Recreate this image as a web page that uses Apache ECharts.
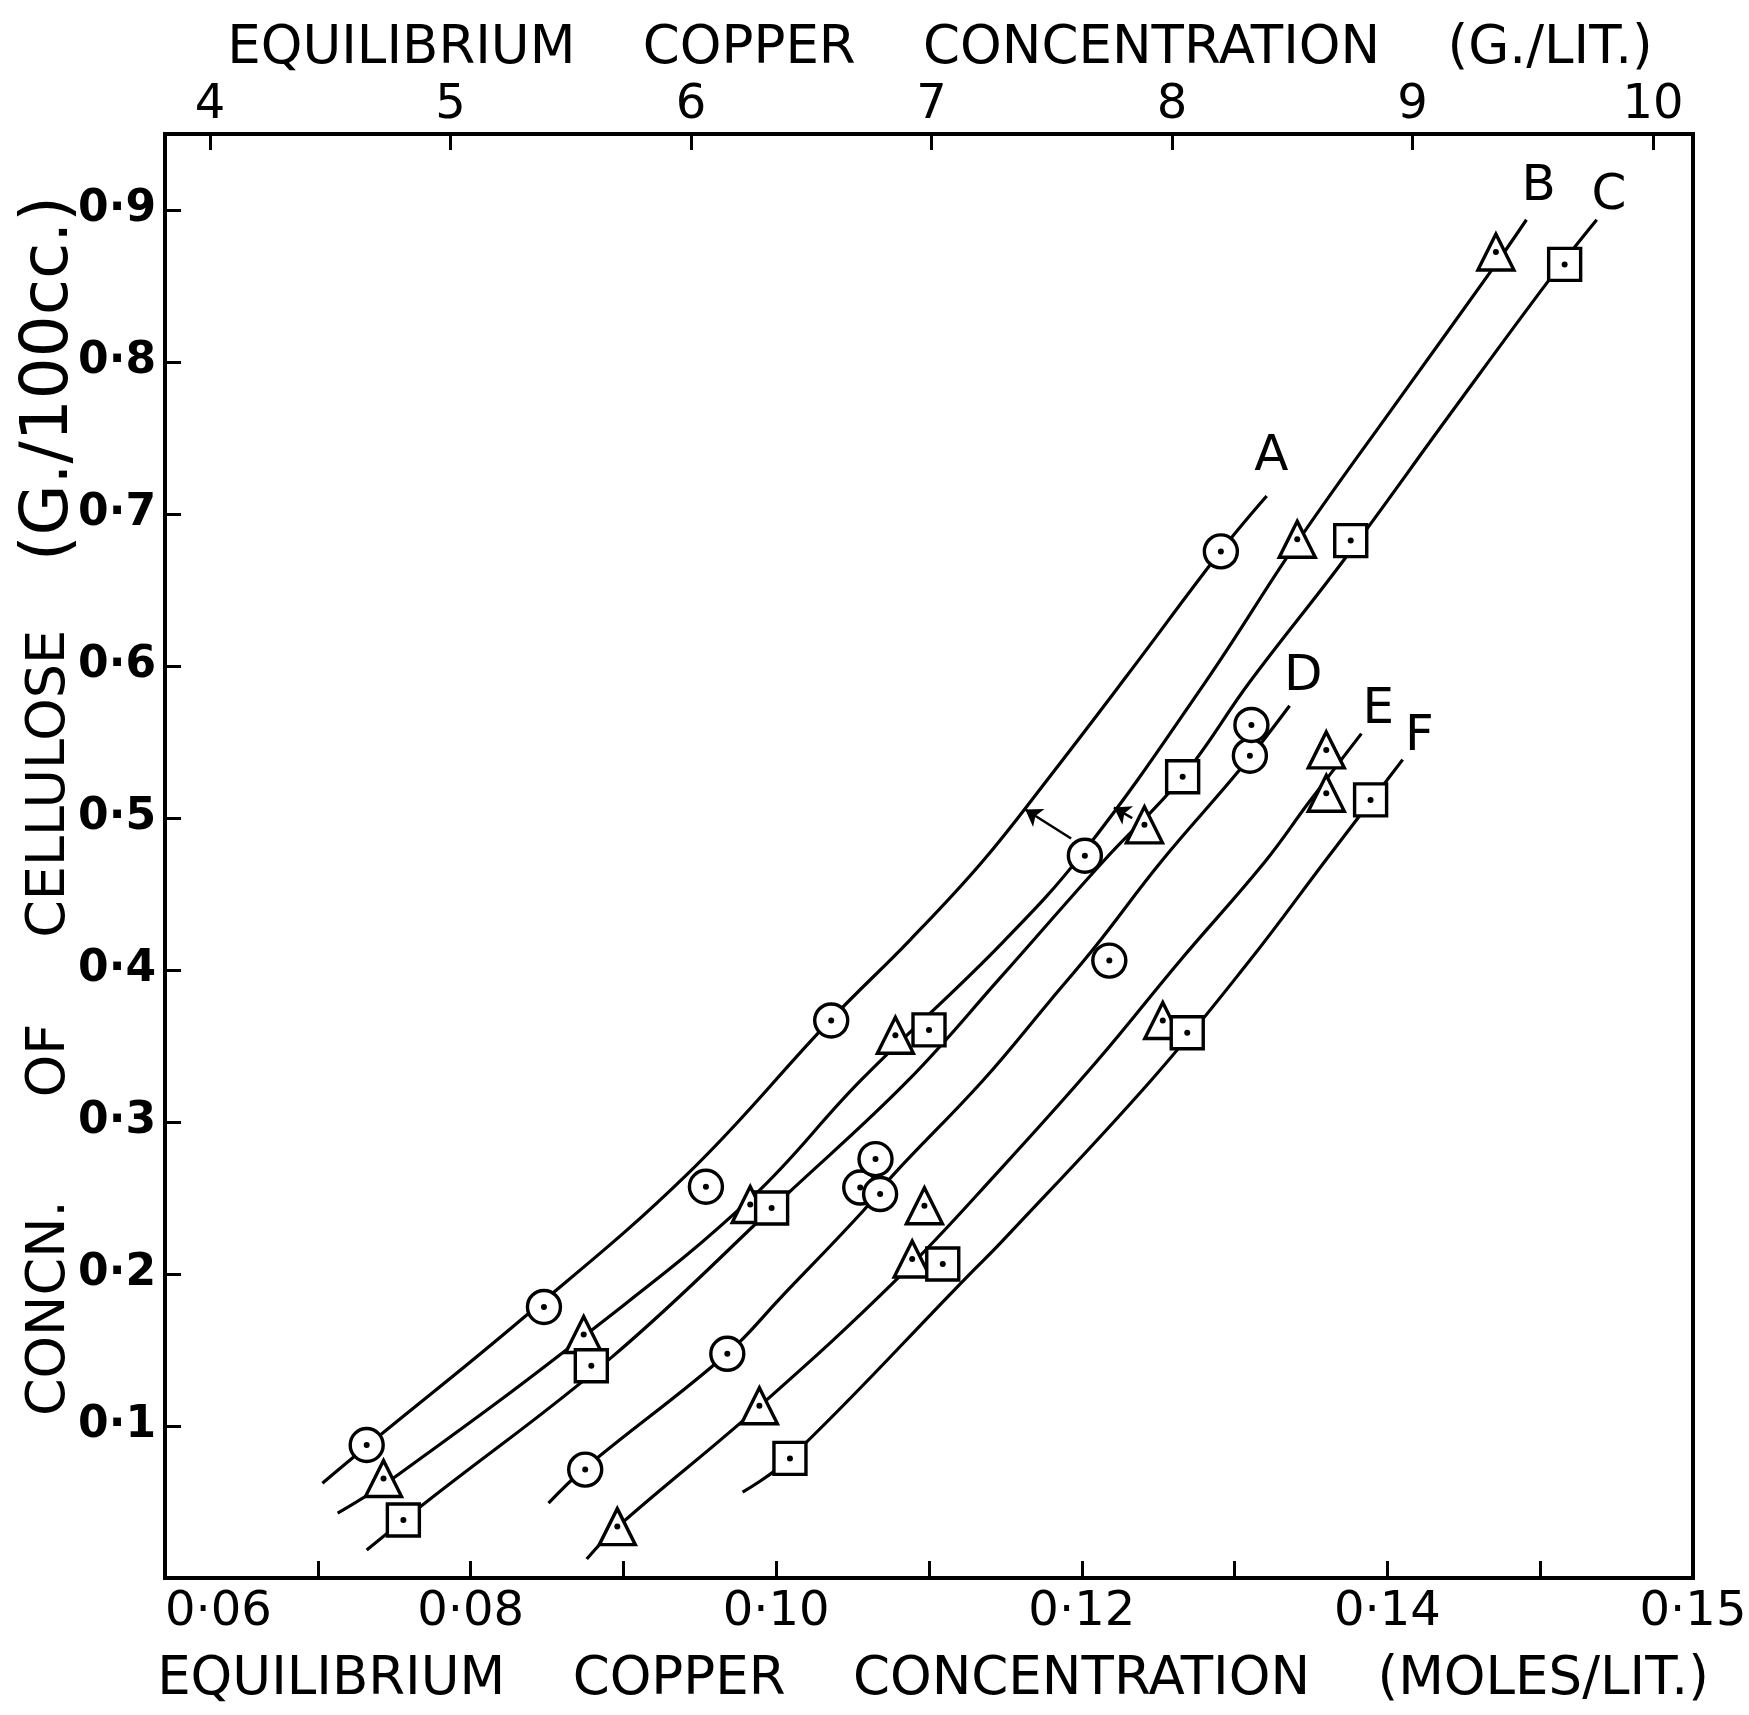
<!DOCTYPE html>
<html>
<head>
<meta charset="utf-8">
<script src="https://cdn.jsdelivr.net/npm/echarts@6/dist/echarts.min.js"></script>
<style>
  html, body { margin:0; padding:0; background:#fff; }
  #chart { width:1749px; height:1715px; }
</style>
</head>
<body>
<div id="chart"></div>
<script>
// ---- Data ----
const CU_GRAMS_PER_MOLE = 63.54;

// fitted curves A-F (mol/lit, g/100cc)
const curveA = [[0.0703,0.0624],[0.0732,0.0867],[0.0834,0.1707],[0.0942,0.2659],[0.1036,0.3677],[0.1088,0.4202],[0.1135,0.4714],[0.1179,0.5272],[0.1230,0.5942],[0.1291,0.6756],[0.1321,0.7118]];
const curveB = [[0.0713,0.0427],[0.0753,0.0683],[0.0884,0.1668],[0.0984,0.2502],[0.1055,0.3270],[0.1147,0.4169],[0.1202,0.4787],[0.1281,0.5896],[0.1341,0.6815],[0.1408,0.7761],[0.1468,0.8601],[0.1491,0.8936]];
const curveC = [[0.0732,0.0184],[0.0770,0.0492],[0.0893,0.1458],[0.1006,0.2515],[0.1086,0.3270],[0.1147,0.3953],[0.1214,0.4714],[0.1266,0.5272],[0.1310,0.5896],[0.1372,0.6704],[0.1441,0.7656],[0.1506,0.8542],[0.1537,0.8936]];
const curveD = [[0.0851,0.0492],[0.0874,0.0716],[0.0968,0.1477],[0.1003,0.1845],[0.1057,0.2416],[0.1076,0.2646],[0.1135,0.3270],[0.1179,0.3795],[0.1209,0.4156],[0.1252,0.4714],[0.1304,0.5325],[0.1336,0.5739]];
const curveE = [[0.0876,0.0125],[0.0896,0.0335],[0.0989,0.1129],[0.1080,0.1976],[0.1147,0.2692],[0.1210,0.3401],[0.1264,0.4058],[0.1320,0.4714],[0.1349,0.5108],[0.1383,0.5555]];
const curveF = [[0.0978,0.0565],[0.1009,0.0788],[0.1127,0.2003],[0.1147,0.2206],[0.1245,0.3270],[0.1310,0.4064],[0.1359,0.4714],[0.1389,0.5108],[0.1410,0.5384]];

// experimental points
const pointsA = [[0.0732,0.0875],[0.0848,0.1783],[0.0954,0.2574],[0.1036,0.3668],[0.1202,0.4752],[0.1291,0.6754]];
const pointsB = [[0.0743,0.0655],[0.0874,0.1602],[0.0983,0.2457],[0.1078,0.3571],[0.1241,0.4955],[0.1341,0.6834],[0.1471,0.8724]];
const pointsC = [[0.0756,0.0382],[0.0879,0.1396],[0.0997,0.2434],[0.1100,0.3606],[0.1266,0.5271],[0.1376,0.6825],[0.1516,0.8642]];
const pointsD = [[0.1055,0.2569],[0.0875,0.0713],[0.0968,0.1475],[0.1065,0.2756],[0.1068,0.2526],[0.1218,0.4062],[0.1310,0.5410],[0.1311,0.5612]];
const pointsE = [[0.0896,0.0338],[0.0989,0.1133],[0.1089,0.2099],[0.1097,0.2449],[0.1253,0.3668],[0.1360,0.5163],[0.1360,0.5448]];
const pointsF = [[0.1009,0.0787],[0.1109,0.2066],[0.1269,0.3587],[0.1389,0.5119]];

// arrows: displaced points pointing to the curve they belong to
const arrowToA = [[0.1193,0.4865],[0.1163,0.5056]];
const arrowToB = [[0.1233,0.4999],[0.1221,0.5069]];

// curve letters
const curveNames = ['A','B','C','D','E','F'];
const curveLabelAt = [[0.1324,0.7376],[0.1499,0.9149],[0.1545,0.9091],[0.1345,0.5925],[0.1394,0.5711],[0.1421,0.5530]];

// ticks & labels
const xTickValues = [0.07,0.08,0.09,0.10,0.11,0.12,0.13,0.14,0.15];
const xLabelValues = [0.06,0.08,0.10,0.12,0.14,0.16];
const xLabelTexts  = ['0·06','0·08','0·10','0·12','0·14','0·15'];
const topTickValues = [4,5,6,7,8,9,10];
const topLabelTexts = ['4','5','6','7','8','9','10'];
const yTickValues = [0.1,0.2,0.3,0.4,0.5,0.6,0.7,0.8,0.9];
const yLabelTexts = ['0·1','0·2','0·3','0·4','0·5','0·6','0·7','0·8','0·9'];

// ---- Chart ----
const FONT = 'DejaVu Sans';
const chart = echarts.init(document.getElementById('chart'), null, {renderer:'canvas'});

function lookup(values, texts, v) {
  for (let i = 0; i < values.length; i++) {
    if (Math.abs(values[i] - v) < 1e-6) return texts[i];
  }
  return '';
}

const curves = [curveA, curveB, curveC, curveD, curveE, curveF];
const pointSets = [
  {data: pointsA, symbol: 'circle', size: 33},
  {data: pointsB, symbol: 'triangle', size: 36},
  {data: pointsC, symbol: 'rect', size: 32},
  {data: pointsD, symbol: 'circle', size: 33},
  {data: pointsE, symbol: 'triangle', size: 36},
  {data: pointsF, symbol: 'rect', size: 32}
];

const series = [];
curves.forEach((c, i) => {
  const s = {
    type: 'line', name: 'curve' + curveNames[i], data: c,
    showSymbol: false, symbol: 'none', smooth: 0.4,
    lineStyle: {color: '#000', width: 3.2}, z: 2, silent: true
  };
  if (i === 0) {
    s.markLine = {
      silent: true, symbol: ['none', 'arrow'], symbolSize: 16,
      lineStyle: {color: '#000', width: 2.5, type: 'solid'},
      label: {show: false},
      data: [
        [{coord: arrowToA[0]}, {coord: arrowToA[1]}],
        [{coord: arrowToB[0]}, {coord: arrowToB[1]}]
      ]
    };
  }
  series.push(s);
});
pointSets.forEach((p, i) => {
  series.push({
    type: 'scatter', name: 'points' + curveNames[i], data: p.data,
    symbol: p.symbol, symbolSize: p.size,
    itemStyle: {color: '#fff', borderColor: '#000', borderWidth: 3.4, opacity: 1},
    z: 3, silent: true
  });
  series.push({
    type: 'scatter', name: 'dots' + curveNames[i], data: p.data,
    symbol: 'circle', symbolSize: 6,
    itemStyle: {color: '#000', opacity: 1}, z: 4, silent: true
  });
});
series.push({
  type: 'scatter', name: 'curveLetters',
  data: curveLabelAt.map((p, i) => ({value: p, name: curveNames[i]})),
  symbolSize: 0, z: 5, silent: true,
  itemStyle: {color: '#000', opacity: 1},
  label: {show: true, position: 'inside', formatter: '{b}', fontFamily: FONT, fontSize: 50,
    color: '#000', opacity: 1, textBorderWidth: 0, textBorderColor: 'transparent'}
});

const option = {
  animation: false,
  backgroundColor: '#fff',
  grid: {left: 165, top: 134, right: 56, bottom: 137, show: true, borderColor: '#000', borderWidth: 4,
    containLabel: false, outerBoundsMode: 'none'},
  xAxis: [
    {
      type: 'value', position: 'bottom', min: 0.06, max: 0.16,
      axisLine: {show: false}, splitLine: {show: false},
      axisTick: {show: true, inside: true, length: 17, lineStyle: {color: '#000', width: 3}, customValues: xTickValues},
      axisLabel: {show: true, customValues: xLabelValues, margin: 11, fontFamily: FONT, fontSize: 48, color: '#000',
        alignMinLabel: 'left',
        formatter: v => lookup(xLabelValues, xLabelTexts, v)},
      name: 'EQUILIBRIUM    COPPER    CONCENTRATION    (MOLES/LIT.)',
      nameLocation: 'middle', nameGap: 76, nameMoveOverlap: false,
      nameTextStyle: {fontFamily: FONT, fontSize: 53, color: '#000', padding: [0, 0, 0, 8]}
    },
    {
      type: 'value', position: 'top',
      min: 0.06 * CU_GRAMS_PER_MOLE, max: 0.16 * CU_GRAMS_PER_MOLE,
      axisLine: {show: false}, splitLine: {show: false},
      axisTick: {show: true, inside: true, length: 16, lineStyle: {color: '#000', width: 3}, customValues: topTickValues},
      axisLabel: {show: true, customValues: topTickValues, margin: 4, fontFamily: FONT, fontSize: 48, color: '#000',
        formatter: v => lookup(topTickValues, topLabelTexts, v)},
      name: 'EQUILIBRIUM    COPPER    CONCENTRATION    (G./LIT.)',
      nameLocation: 'middle', nameGap: 58, nameMoveOverlap: false,
      nameTextStyle: {fontFamily: FONT, fontSize: 53, color: '#000', padding: [0, 0, 0, 22]}
    }
  ],
  yAxis: {
    type: 'value', min: 0, max: 0.95,
    axisLine: {show: false}, splitLine: {show: false},
    axisTick: {show: true, inside: true, length: 16, lineStyle: {color: '#000', width: 3}, customValues: yTickValues},
    axisLabel: {show: true, customValues: yTickValues, margin: 9, fontFamily: FONT, fontSize: 44, fontWeight: 'bold', color: '#000',
      formatter: v => lookup(yTickValues, yLabelTexts, v)},
    name: '{w|CONCN.}      {w|OF}     {w|CELLULOSE}    {p|(G./100cc.)}',
    nameLocation: 'middle', nameGap: 82, nameRotate: 90, nameMoveOverlap: false,
    nameTextStyle: {fontFamily: FONT, fontSize: 54, color: '#000', padding: [0, 0, 0, 100],
      rich: {
        w: {fontFamily: FONT, fontSize: 54, color: '#000'},
        p: {fontFamily: FONT, fontSize: 66, color: '#000'}
      }}
  },
  series: series
};
chart.setOption(option);
</script>
</body>
</html>
